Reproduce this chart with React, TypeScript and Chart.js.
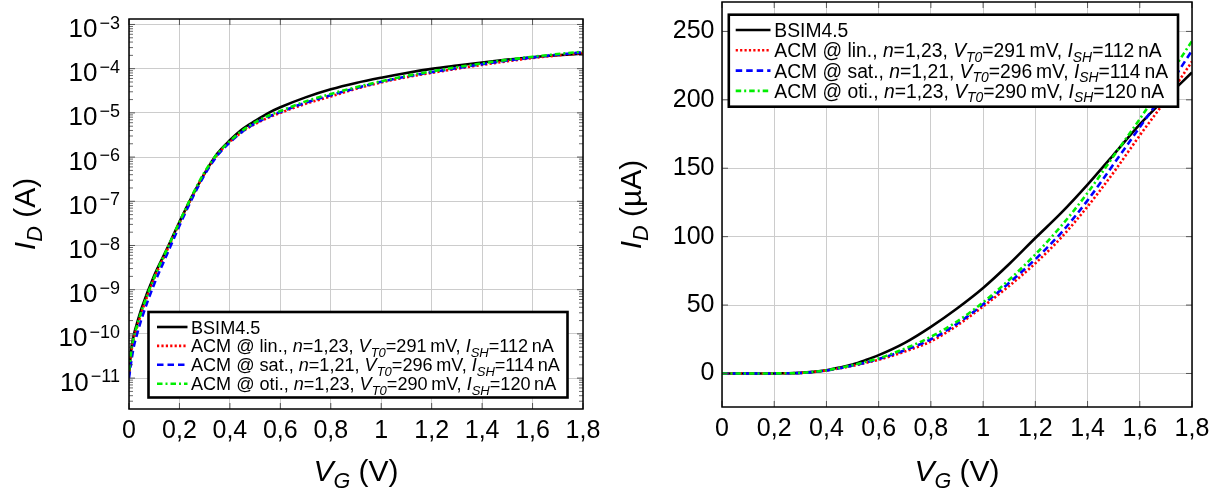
import React, { useEffect, useRef } from 'react';
import { Chart, registerables } from 'chart.js';

Chart.register(...registerables);

// ---------------- DATA ----------------
// Gate voltage (V)
const VG = [0, 0.01, 0.02, 0.03, 0.05, 0.1, 0.15, 0.2, 0.25, 0.3, 0.35, 0.4, 0.45, 0.5, 0.55, 0.6, 0.7, 0.8, 0.9, 1.0, 1.1, 1.2, 1.3, 1.4, 1.5, 1.6, 1.7, 1.8];
// Drain current (A)
const ID_BSIM = [1.2e-11, 5.0e-11, 1.0e-10, 1.6e-10, 3.8e-10, 2.1e-9, 8.3e-9, 3.4e-8, 1.3e-7, 4.3e-7, 1.2e-6, 2.4e-6, 4.3e-6, 6.6e-6, 9.8e-6, 1.34e-5, 2.24e-5, 3.41e-5, 4.75e-5, 6.25e-5, 8.0e-5, 9.9e-5, 1.175e-4, 1.38e-4, 1.6e-4, 1.82e-4, 2.015e-4, 2.2e-4];
const ID_LIN = [1.4e-11, 4.2e-11, 8.2e-11, 1.3e-10, 3.1e-10, 1.8e-9, 7.6e-9, 3.2e-8, 1.25e-7, 4.3e-7, 1.12e-6, 2.2e-6, 3.75e-6, 5.6e-6, 7.7e-6, 1.0e-5, 1.6e-5, 2.35e-5, 3.5e-5, 4.9e-5, 6.4e-5, 8.05e-5, 9.95e-5, 1.22e-4, 1.47e-4, 1.74e-4, 2.0e-4, 2.28e-4];
const ID_SAT = [1.0e-11, 2.6e-11, 5.5e-11, 9.0e-11, 2.2e-10, 1.35e-9, 6.2e-9, 2.8e-8, 1.15e-7, 4.0e-7, 1.08e-6, 2.15e-6, 3.8e-6, 5.8e-6, 8.0e-6, 1.05e-5, 1.7e-5, 2.5e-5, 3.63e-5, 5.05e-5, 6.63e-5, 8.35e-5, 1.03e-4, 1.265e-4, 1.53e-4, 1.8e-4, 2.07e-4, 2.36e-4];
const ID_OTI = [1.5e-11, 4.6e-11, 9.0e-11, 1.4e-10, 3.3e-10, 1.9e-9, 8.1e-9, 3.4e-8, 1.35e-7, 4.6e-7, 1.18e-6, 2.3e-6, 4.0e-6, 6.1e-6, 8.5e-6, 1.1e-5, 1.82e-5, 2.68e-5, 3.8e-5, 5.2e-5, 6.85e-5, 8.7e-5, 1.08e-4, 1.32e-4, 1.59e-4, 1.86e-4, 2.14e-4, 2.43e-4];

// Legend parameters
const LEGEND_FIRST = 'BSIM4.5';
const LEGEND_MODES = ['lin.', 'sat.', 'oti.'];
const LEGEND_N = ['1,23', '1,21', '1,23'];
const LEGEND_VT0 = ['291', '296', '290'];
const LEGEND_ISH = ['112', '114', '120'];

// Ticks
const X_TICKS = [0, 0.2, 0.4, 0.6, 0.8, 1, 1.2, 1.4, 1.6, 1.8];
const X_TICK_LABELS = ['0', '0,2', '0,4', '0,6', '0,8', '1', '1,2', '1,4', '1,6', '1,8'];
const LOG_TICKS = [1e-11, 1e-10, 1e-9, 1e-8, 1e-7, 1e-6, 1e-5, 1e-4, 1e-3];
const LOG_TICK_EXPONENTS = ['\u221211', '\u221210', '\u22129', '\u22128', '\u22127', '\u22126', '\u22125', '\u22124', '\u22123'];
const LIN_TICKS = [0, 50, 100, 150, 200, 250];
const LIN_TICK_LABELS = ['0', '50', '100', '150', '200', '250'];

// ---------------- STYLE ----------------
const FONT = '"Liberation Sans", Arial, Helvetica, sans-serif';
const SERIES = [
  { values: ID_BSIM, color: '#000000', dash: [] as number[], width: 2.6, order: 4 },
  { values: ID_LIN, color: '#ff0000', dash: [2.2, 2.2], width: 2.6, order: 3 },
  { values: ID_SAT, color: '#0000ff', dash: [6.5, 4], width: 2.6, order: 2 },
  { values: ID_OTI, color: '#00ee00', dash: [5.5, 3, 2, 3], width: 2.6, order: 1 },
];

type Seg = { t: string; it?: boolean; sub?: boolean };

function legendRows(): Seg[][] {
  const rows: Seg[][] = [[{ t: LEGEND_FIRST }]];
  for (let i = 0; i < LEGEND_MODES.length; i++) {
    rows.push([
      { t: 'ACM @ ' + LEGEND_MODES[i] + ', ' },
      { t: 'n', it: true },
      { t: '=' + LEGEND_N[i] + ', ' },
      { t: 'V', it: true },
      { t: 'T0', it: true, sub: true },
      { t: '=' + LEGEND_VT0[i] + '\u2009mV, ' },
      { t: 'I', it: true },
      { t: 'SH', it: true, sub: true },
      { t: '=' + LEGEND_ISH[i] + '\u2009nA' },
    ]);
  }
  return rows;
}

function richText(ctx: CanvasRenderingContext2D, segs: Seg[], x: number, y: number, size: number, draw: boolean): number {
  let cx = x;
  for (const s of segs) {
    const fs = s.sub ? size * 0.72 : size;
    ctx.font = `${s.it ? 'italic ' : ''}${fs}px ${FONT}`;
    const dy = s.sub ? size * 0.24 : 0;
    if (draw) ctx.fillText(s.t, cx, y + dy);
    cx += ctx.measureText(s.t).width;
  }
  return cx - x;
}

function line(ctx: CanvasRenderingContext2D, x1: number, y1: number, x2: number, y2: number) {
  ctx.beginPath();
  ctx.moveTo(x1, y1);
  ctx.lineTo(x2, y2);
  ctx.stroke();
}

const decorPlugin = {
  id: 'decor',
  afterDraw(chart: any, _args: any, opts: any) {
    const ctx: CanvasRenderingContext2D = chart.ctx;
    const ca = chart.chartArea;
    const xs = chart.scales.x;
    const ys = chart.scales.y;
    ctx.save();

    // minor ticks (log axis)
    if (opts.log) {
      ctx.strokeStyle = '#444';
      ctx.lineWidth = 0.8;
      for (let e = -12; e <= -3; e++) {
        for (let k = 2; k <= 9; k++) {
          const v = k * Math.pow(10, e);
          if (v <= ys.min || v >= ys.max) continue;
          const py = ys.getPixelForValue(v);
          line(ctx, ca.left, py, ca.left + 4, py);
          line(ctx, ca.right - 4, py, ca.right, py);
        }
      }
    }
    // major ticks, inward
    ctx.strokeStyle = '#555';
    ctx.lineWidth = 1;
    for (const v of X_TICKS) {
      const px = xs.getPixelForValue(v);
      line(ctx, px, ca.bottom, px, ca.bottom - 6);
      line(ctx, px, ca.top, px, ca.top + 6);
    }
    for (const t of ys.ticks) {
      const py = ys.getPixelForValue(t.value);
      line(ctx, ca.left, py, ca.left + 6, py);
      line(ctx, ca.right - 6, py, ca.right, py);
    }
    // frame
    ctx.strokeStyle = '#000';
    ctx.lineWidth = 1.5;
    ctx.strokeRect(ca.left, ca.top, ca.right - ca.left, ca.bottom - ca.top);

    ctx.fillStyle = '#000';
    ctx.textAlign = 'left';
    ctx.textBaseline = 'alphabetic';

    // log tick labels 10^n
    if (opts.log) {
      for (let i = 0; i < LOG_TICKS.length; i++) {
        const py = ys.getPixelForValue(LOG_TICKS[i]);
        ctx.font = `26px ${FONT}`;
        const wb = ctx.measureText('10').width;
        ctx.font = `18px ${FONT}`;
        const we = ctx.measureText(LOG_TICK_EXPONENTS[i]).width;
        const x0 = ca.left - 9 - we - 2 - wb;
        ctx.font = `26px ${FONT}`;
        ctx.fillText('10', x0, py + 12.6);
        ctx.font = `18px ${FONT}`;
        ctx.fillText(LOG_TICK_EXPONENTS[i], x0 + wb + 2, py + 4.2);
      }
    }

    // axis titles
    const tsize = 30;
    const xt: Seg[] = [{ t: 'V', it: true }, { t: 'G', it: true, sub: true }, { t: ' (V)' }];
    const wx = richText(ctx, xt, 0, 0, tsize, false);
    richText(ctx, xt, (ca.left + ca.right) / 2 - wx / 2, opts.xTitleY, tsize, true);

    const yt: Seg[] = [{ t: 'I', it: true }, { t: 'D', it: true, sub: true }, { t: opts.yUnit }];
    const wy = richText(ctx, yt, 0, 0, tsize, false);
    ctx.save();
    ctx.translate(opts.yTitleX, (ca.top + ca.bottom) / 2);
    ctx.rotate(-Math.PI / 2);
    richText(ctx, yt, -wy / 2, 0, tsize, true);
    ctx.restore();

    // legend
    const L = opts.legend;
    ctx.fillStyle = '#fff';
    ctx.fillRect(L.x0, L.y0, L.x1 - L.x0, L.y1 - L.y0);
    ctx.strokeStyle = '#000';
    ctx.lineWidth = 2.6;
    ctx.strokeRect(L.x0, L.y0, L.x1 - L.x0, L.y1 - L.y0);
    const rows = legendRows();
    let maxW = 0;
    for (const r of rows) maxW = Math.max(maxW, richText(ctx, r, 0, 0, 16, false));
    const fsize = (16 * L.textW) / maxW;
    const dsets = chart.data.datasets;
    for (let i = 0; i < rows.length; i++) {
      const cy = L.row0 + i * L.rowGap;
      const ds = dsets[i];
      ctx.strokeStyle = ds.borderColor;
      ctx.lineWidth = ds.borderWidth;
      ctx.setLineDash(ds.borderDash || []);
      line(ctx, L.sampleX, cy, L.sampleX + L.sampleLen, cy);
      ctx.setLineDash([]);
      ctx.fillStyle = '#000';
      richText(ctx, rows[i], L.textX, cy + fsize * 0.36, fsize, true);
    }
    ctx.restore();
  },
};

function makeConfig(kind: 'log' | 'lin'): any {
  const isLog = kind === 'log';
  const factor = isLog ? 1 : 1e6; // A -> uA on the linear chart
  const datasets = SERIES.map((s) => ({
    data: VG.map((v, i) => ({ x: v, y: s.values[i] * factor })),
    borderColor: s.color,
    borderWidth: s.width,
    borderDash: s.dash,
    pointRadius: 0,
    fill: false,
    cubicInterpolationMode: 'monotone',
    order: s.order,
  }));
  const gridColor = '#cccccc';
  const xScale = {
    type: 'linear',
    min: 0,
    max: 1.8,
    afterBuildTicks: (sc: any) => {
      sc.ticks = X_TICKS.map((v) => ({ value: v }));
    },
    ticks: {
      callback: (_v: any, i: number) => X_TICK_LABELS[i],
      font: { size: 25, family: FONT },
      color: '#000',
      padding: 7,
      maxRotation: 0,
      minRotation: 0,
      autoSkip: false,
    },
    grid: { color: gridColor, lineWidth: 1, drawTicks: false },
    border: { display: false },
    afterFit: (sc: any) => {
      sc.height = isLog ? 83 : 85;
      sc.paddingLeft = 0;
      sc.paddingRight = 0;
    },
  };
  const yScale = isLog
    ? {
        type: 'logarithmic',
        min: 2e-12,
        max: 1.33e-3,
        afterBuildTicks: (sc: any) => {
          sc.ticks = LOG_TICKS.map((v) => ({ value: v }));
        },
        ticks: { display: false },
        grid: { color: gridColor, lineWidth: 1, drawTicks: false },
        border: { display: false },
        afterFit: (sc: any) => {
          sc.width = 129;
          sc.paddingTop = 0;
          sc.paddingBottom = 0;
        },
      }
    : {
        type: 'linear',
        min: -24.5,
        max: 271.5,
        afterBuildTicks: (sc: any) => {
          sc.ticks = LIN_TICKS.map((v) => ({ value: v }));
        },
        ticks: {
          callback: (_v: any, i: number) => LIN_TICK_LABELS[i],
          font: { size: 25, family: FONT },
          color: '#000',
          padding: 7.5,
          autoSkip: false,
        },
        grid: { color: gridColor, lineWidth: 1, drawTicks: false },
        border: { display: false },
        afterFit: (sc: any) => {
          sc.width = 112;
          sc.paddingTop = 0;
          sc.paddingBottom = 0;
        },
      };
  const decor = isLog
    ? {
        log: true,
        xTitleY: 480.5,
        yTitleX: 34.5,
        yUnit: ' (A)',
        legend: { x0: 148.5, y0: 312, x1: 567.5, y1: 397.5, row0: 327, rowGap: 18.9, sampleX: 157, sampleLen: 30.5, textX: 191, textW: 369 },
      }
    : {
        log: false,
        xTitleY: 481,
        yTitleX: 31,
        yUnit: ' (\u00b5A)',
        legend: { x0: 118.8, y0: 14.7, x1: 568, y1: 106.7, row0: 30, rowGap: 20.3, sampleX: 125.7, sampleLen: 34.8, textX: 164.3, textW: 394 },
      };
  return {
    type: 'line',
    data: { datasets },
    plugins: [decorPlugin],
    options: {
      animation: false,
      responsive: false,
      maintainAspectRatio: false,
      layout: { padding: isLog ? { left: 0, right: 27, top: 19, bottom: 0 } : { left: 0, right: 33, top: 2, bottom: 0 } },
      plugins: { legend: { display: false }, tooltip: { enabled: false }, decor },
      scales: { x: xScale, y: yScale },
    },
  };
}

export default function App() {
  const leftRef = useRef<HTMLCanvasElement>(null);
  const rightRef = useRef<HTMLCanvasElement>(null);
  useEffect(() => {
    const c1 = new Chart(leftRef.current as HTMLCanvasElement, makeConfig('log'));
    const c2 = new Chart(rightRef.current as HTMLCanvasElement, makeConfig('lin'));
    return () => {
      c1.destroy();
      c2.destroy();
    };
  }, []);
  return (
    <div style={{ position: 'fixed', left: 0, top: 0, width: 1225, height: 492, background: '#fff', overflow: 'hidden' }}>
      <canvas ref={leftRef} width={610} height={492} style={{ position: 'absolute', left: 0, top: 0, width: 610, height: 492 }} />
      <canvas ref={rightRef} width={615} height={492} style={{ position: 'absolute', left: 610, top: 0, width: 615, height: 492 }} />
    </div>
  );
}
